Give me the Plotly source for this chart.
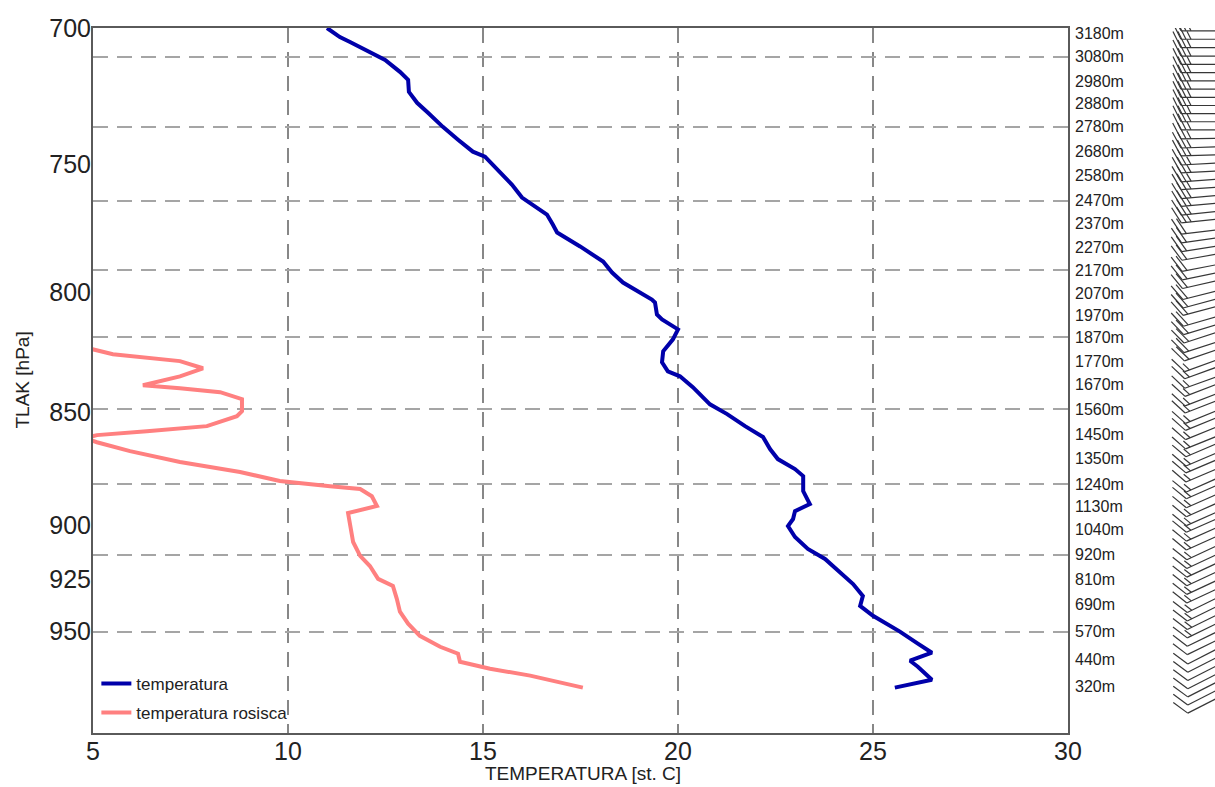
import numpy as np
import plotly.graph_objects as go

# ---------------- data ----------------
temp_T = [11.0, 11.33, 11.59, 11.97, 12.49, 12.87, 13.08, 13.10, 13.31, 13.59, 13.97, 14.36,
          14.74, 15.05, 15.44, 15.74, 16.0, 16.33, 16.64, 16.79, 16.90, 17.49, 18.08, 18.31,
          18.59, 19.33, 19.41, 19.46, 19.59, 20.0, 19.87, 19.62, 19.59, 19.74, 20.05, 20.38,
          20.82, 21.26, 21.72, 22.18, 22.36, 22.56, 23.0, 23.21, 23.21, 23.38, 23.0, 22.95,
          22.82, 23.0, 23.33, 23.77, 24.15, 24.49, 24.74, 24.67, 25.0, 25.69, 26.15, 26.51,
          25.95, 26.15, 26.51, 25.56]
temp_p = [700.0, 703.2, 705.0, 707.8, 711.4, 715.7, 718.6, 723.0, 727.0, 730.7, 735.9, 740.7,
          745.2, 747.1, 753.1, 757.7, 762.7, 766.2, 769.3, 773.2, 776.3, 781.8, 787.8, 792.2,
          796.2, 803.1, 804.3, 809.2, 811.2, 815.3, 819.4, 824.4, 829.0, 832.8, 834.9, 839.5,
          846.8, 851.0, 856.2, 860.9, 866.2, 870.6, 875.0, 878.1, 884.8, 890.6, 893.8, 897.4,
          900.6, 905.6, 911.1, 915.7, 921.8, 927.4, 933.0, 937.7, 942.4, 950.0, 955.8, 960.2,
          964.1, 967.0, 973.4, 977.3]

dew_T = [4.67, 5.51, 7.23, 7.82, 7.23, 6.28, 7.23, 8.26, 8.82, 8.82, 8.69, 7.92, 6.38, 5.10,
         4.79, 5.10, 5.95, 7.23, 8.77, 9.79, 11.08, 11.85, 12.15, 12.28, 11.54, 11.59, 11.67,
         11.85, 12.10, 12.31, 12.69, 12.79, 12.87, 13.08, 13.38, 13.90, 14.36, 14.41, 15.18,
         16.21, 17.56]
dew_p = [822.3, 825.6, 828.5, 831.5, 834.9, 838.7, 839.9, 841.6, 844.6, 849.7, 851.9, 856.2,
         858.4, 860.1, 861.4, 863.2, 867.1, 871.9, 876.3, 880.3, 882.6, 883.9, 887.1, 891.5,
         894.7, 900.6, 907.9, 914.3, 919.0, 925.0, 928.3, 934.4, 940.5, 946.2, 952.0, 957.3,
         960.7, 964.6, 968.0, 971.4, 977.3]

# height labels on the right axis and where they sit (pressure)
height_lbl = ["3180m", "3080m", "2980m", "2880m", "2780m", "2680m", "2580m", "2470m",
              "2370m", "2270m", "2170m", "2070m", "1970m", "1870m", "1770m", "1670m",
              "1560m", "1450m", "1350m", "1240m", "1130m", "1040m", "920m", "810m",
              "690m", "570m", "440m", "320m"]
height_p = [701.8, 710.3, 719.0, 727.4, 735.9, 745.2, 754.3, 763.9, 772.8, 782.2, 791.3,
            800.6, 809.5, 818.5, 828.5, 838.2, 849.0, 859.6, 870.1, 881.6, 891.9, 901.9,
            913.8, 925.0, 937.2, 950.0, 963.6, 976.7]

p_ticks = [700, 750, 800, 850, 900, 925, 950]
t_ticks = [5, 10, 15, 20, 25, 30]

# wind barbs: pressure, direction (deg, from), speed (kt)
wind_p = [701, 704, 707, 710, 713, 716, 719, 722, 725, 728, 731, 734, 737, 740, 743, 746,
          749, 752, 755, 758, 761, 764, 767, 770,
          774, 777, 780, 783, 787, 790, 793, 797, 800, 803, 807, 810, 813, 817, 820,
          824, 827, 831, 834, 838, 841, 845, 848, 852, 856, 859, 863, 866, 870, 874, 877,
          881, 885, 889, 892, 896, 900,
          904, 908, 912, 916, 920, 924, 928, 932, 936, 940, 944, 948, 952, 956, 960, 964,
          968, 972, 976]
wind_dir = [270, 270, 270, 270, 270, 270, 270, 270, 270, 270, 270, 270, 270, 269, 268, 268,
            267, 267, 266, 266, 265, 265, 264, 264,
            263, 262, 261, 260, 259, 258, 257, 256, 255, 255, 254, 253, 252, 252, 251,
            250, 250, 250, 249, 249, 249, 248, 248, 248, 248, 247, 247, 247, 247, 246, 246,
            246, 246, 246, 246, 246, 246,
            245, 245, 245, 245, 245, 245, 244, 244, 244, 244, 244, 244, 243, 243, 243, 243,
            243, 243, 243]
wind_spd = [25, 25, 25, 25, 25, 25, 25, 25, 25, 25, 25, 25, 25, 25, 25, 25,
            25, 25, 25, 25, 25, 25, 25, 25,
            20, 20, 20, 20, 20, 20, 20, 20, 20, 20, 20, 20, 20, 20, 20,
            15, 15, 15, 15, 15, 15, 15, 15, 15, 15, 15, 15, 15, 15, 15, 15,
            15, 15, 15, 15, 15, 15,
            15, 15, 15, 15, 15, 15, 15, 15, 15, 15, 10, 10, 10, 10, 10, 10,
            10, 10, 10]

# ---------------- layout geometry ----------------
W, H = 1215, 787
ML, MR, MT, MB = 93, 0, 28, 54
plot_w = W - ML - MR
plot_h = H - MT - MB
P_TOP, P_BOT = 700.0, 1000.0
main_right_px = 1068
barb_left_px = 1150
x_dom_main = [0, (main_right_px - ML) / plot_w]
x_dom_barb = [(barb_left_px - ML) / plot_w, 1]
barb_w = W - MR - barb_left_px

# pixels per unit of ln(p) on the log pressure axis
kpx = plot_h / np.log(P_BOT / P_TOP)

# ---------------- barbs built from wind data ----------------
SHAFT, FEATH, SPACE = 62.0, 18.0, 5.0
ox = barb_w + 28.0
bx, by = [], []


def to_p(p0, up_px):
    return p0 * np.exp(-up_px / kpx)


for p0, d, s in zip(wind_p, wind_dir, wind_spd):
    th = np.deg2rad(d)
    dx, dy = np.sin(th), np.cos(th)          # shaft direction (screen: up positive)
    tx, ty = ox + SHAFT * dx, SHAFT * dy      # tip
    bx += [ox, tx, None]
    by += [to_p(p0, 0), to_p(p0, ty), None]
    px_, py_ = dy, -dx                        # perpendicular (feather side)
    fx, fy = px_ + 0.5 * dx, py_ + 0.5 * dy
    n = np.hypot(fx, fy)
    fx, fy = fx / n, fy / n
    nfull = int(s // 10)
    half = (s % 10) >= 5
    pos = 0.0
    for i in range(nfull):
        sx, sy = tx - pos * dx, ty - pos * dy
        bx += [sx, sx + FEATH * fx, None]
        by += [to_p(p0, sy), to_p(p0, sy + FEATH * fy), None]
        pos += SPACE
    if half:
        if nfull == 0:
            pos += SPACE
        sx, sy = tx - pos * dx, ty - pos * dy
        bx += [sx, sx + 0.5 * FEATH * fx, None]
        by += [to_p(p0, sy), to_p(p0, sy + 0.5 * FEATH * fy), None]

FONT = "Liberation Sans, Arial, sans-serif"

fig = go.Figure()
fig.add_trace(go.Scatter(x=temp_T, y=temp_p, mode="lines", name="temperatura",
                         legendgroup="a",
                         line=dict(color="rgb(0,0,170)", width=4), xaxis="x", yaxis="y"))
fig.add_trace(go.Scatter(x=dew_T, y=dew_p, mode="lines", name="temperatura rosisca",
                         legendgroup="b",
                         line=dict(color="rgb(255,128,128)", width=4), xaxis="x", yaxis="y"))
fig.add_trace(go.Scatter(x=bx, y=by, mode="lines", showlegend=False, hoverinfo="skip",
                         line=dict(color="rgb(55,55,55)", width=1.2), xaxis="x2", yaxis="y4"))
# invisible helpers to attach the label axes
fig.add_trace(go.Scatter(x=[None], y=[None], showlegend=False, xaxis="x", yaxis="y2"))
fig.add_trace(go.Scatter(x=[None], y=[None], showlegend=False, xaxis="x", yaxis="y3"))

logr = [np.log10(P_BOT), np.log10(P_TOP)]
grid_p = height_p[1::3]

fig.update_layout(
    width=W, height=H,
    margin=dict(l=ML, r=MR, t=MT, b=MB, pad=0, autoexpand=False),
    paper_bgcolor="white", plot_bgcolor="white",
    font=dict(family=FONT, color="#222"),
    showlegend=True,
    legend=dict(x=0.003, y=0.003, xanchor="left", yanchor="bottom",
                bgcolor="rgba(255,255,255,0)", font=dict(size=17, family=FONT),
                itemwidth=30, tracegroupgap=4),
    xaxis=dict(domain=x_dom_main, range=[5, 30], tickvals=t_ticks,
               ticktext=[str(t) for t in t_ticks], tickfont=dict(size=25),
               showgrid=True, gridcolor="rgb(135,135,135)", gridwidth=1.6,
               griddash="15px,9px", zeroline=False, automargin=False,
               showline=True, linecolor="rgb(90,90,90)", linewidth=1.5, mirror=True,
               ticks="", anchor="y", ticklabelstandoff=-5),
    yaxis=dict(type="log", range=logr, tickvals=grid_p, showticklabels=False,
               showgrid=True, gridcolor="rgb(165,165,165)", gridwidth=1.6,
               griddash="15px,9px", zeroline=False, automargin=False,
               showline=True, linecolor="rgb(90,90,90)", linewidth=1.5, mirror=True,
               ticks="", anchor="x"),
    yaxis2=dict(type="log", range=logr, overlaying="y", side="left", anchor="x",
                tickvals=p_ticks, ticktext=[str(p) for p in p_ticks],
                tickfont=dict(size=25), showgrid=False, zeroline=False, ticks="",
                showline=False, ticklabelstandoff=1, automargin=False),
    yaxis3=dict(type="log", range=logr, overlaying="y", side="right", anchor="x",
                tickvals=height_p, ticktext=height_lbl, tickfont=dict(size=16),
                showgrid=False, zeroline=False, ticks="", showline=False,
                ticklabelstandoff=6, automargin=False),
    xaxis2=dict(domain=x_dom_barb, range=[0, barb_w], visible=False, anchor="y4"),
    yaxis4=dict(type="log", range=logr, visible=False, anchor="x2", domain=[0, 1]),
    annotations=[
        dict(text="TLAK [hPa]", xref="paper", yref="paper", x=(22 - ML) / plot_w, y=0.5,
             xanchor="center", yanchor="middle", textangle=-90, showarrow=False,
             font=dict(size=19, family=FONT, color="#222")),
        dict(text="TEMPERATURA [st. C]", xref="paper", yref="paper",
             x=(583 - ML) / plot_w, y=-(773 - (MT + plot_h)) / plot_h,
             xanchor="center", yanchor="middle", showarrow=False,
             font=dict(size=19, family=FONT, color="#222")),
    ],
)

fig.write_html("out.html", config={"displayModeBar": False},
               post_script="document.body.style.margin='0px';document.body.style.overflow='hidden';")
